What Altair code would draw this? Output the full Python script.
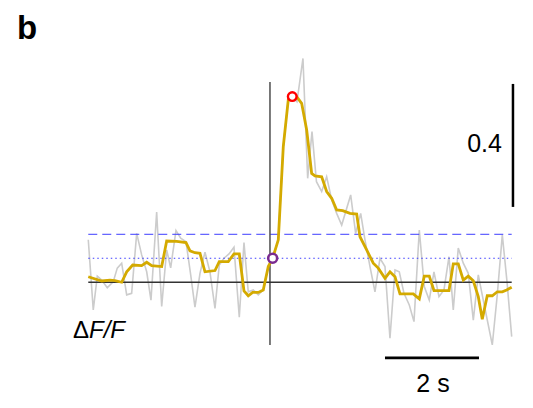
import altair as alt
import pandas as pd

# Smoothed trace (gold)
gold_t = [-3.866, -3.581, -3.404, -3.298, -3.155, -3.049, -2.921, -2.730, -2.623, -2.517,
          -2.304, -2.198, -1.985, -1.787, -1.702, -1.596, -1.489, -1.383, -1.170, -1.079,
          -0.887, -0.766, -0.653, -0.553, -0.462, -0.368, -0.249, -0.143, -0.036, 0.057,
          0.177, 0.283, 0.389, 0.474, 0.568, 0.674, 0.781, 0.887, 0.957, 1.100,
          1.206, 1.313, 1.419, 1.547, 1.702, 1.845, 1.915, 2.057, 2.198, 2.304,
          2.447, 2.553, 2.660, 2.766, 3.049, 3.177, 3.283, 3.389, 3.489, 3.809,
          3.900, 4.006, 4.113, 4.219, 4.326, 4.432, 4.517, 4.623, 4.730, 4.836,
          4.943, 5.036, 5.143]
gold_v = [0.018, 0.004, 0.007, 0.005, 0.000, 0.034, 0.056, 0.054, 0.065, 0.054,
          0.051, 0.134, 0.133, 0.129, 0.102, 0.096, 0.094, 0.034, 0.038, 0.067,
          0.067, 0.092, 0.092, -0.028, -0.044, -0.033, -0.033, -0.025, 0.051, 0.078,
          0.138, 0.441, 0.593, 0.604, 0.604, 0.582, 0.495, 0.354, 0.346, 0.343,
          0.295, 0.273, 0.235, 0.233, 0.224, 0.222, 0.148, 0.105, 0.062, 0.046,
          0.013, 0.034, 0.018, -0.038, -0.038, -0.054, 0.020, 0.020, -0.027, -0.027,
          0.060, 0.060, 0.007, 0.020, 0.005, -0.047, -0.120, -0.044, -0.044, -0.031,
          -0.031, -0.025, -0.016]

# Raw trace (gray)
gray_t = [-3.866, -3.760, -3.674, -3.581, -3.462, -3.334, -3.249, -3.155, -3.049, -2.943,
          -2.836, -2.730, -2.623, -2.532, -2.411, -2.304, -2.198, -2.113, -2.000, -1.900,
          -1.787, -1.687, -1.596, -1.489, -1.383, -1.277, -1.170, -1.079, -0.979, -0.872,
          -0.766, -0.653, -0.553, -0.462, -0.355, -0.249, -0.143, -0.036, 0.057, 0.177,
          0.283, 0.389, 0.474, 0.574, 0.702, 0.802, 0.894, 0.989, 1.100, 1.206,
          1.313, 1.419, 1.526, 1.717, 1.823, 1.930, 2.021, 2.128, 2.234, 2.340,
          2.447, 2.553, 2.660, 2.751, 2.851, 2.964, 3.064, 3.177, 3.283, 3.389,
          3.489, 3.596, 3.702, 3.809, 3.900, 4.006, 4.113, 4.219, 4.326, 4.432,
          4.538, 4.645, 4.730, 4.836, 4.943, 5.043, 5.143]
gray_v = [0.138, -0.090, 0.020, 0.007, -0.018, 0.002, 0.046, 0.062, -0.041, -0.036,
          0.159, 0.089, 0.034, -0.058, 0.228, -0.079, 0.105, 0.047, 0.168, 0.143,
          0.132, 0.024, -0.081, 0.029, 0.098, 0.034, -0.085, 0.056, 0.078, 0.092,
          0.114, -0.114, 0.129, -0.031, -0.025, -0.041, -0.025, 0.051, 0.078, 0.138,
          0.441, 0.593, 0.603, 0.587, 0.728, 0.338, 0.490, 0.327, 0.295, 0.343,
          0.268, 0.224, 0.186, 0.284, 0.159, 0.224, 0.138, 0.051, -0.031, 0.078,
          0.051, -0.182, 0.040, 0.034, -0.036, -0.074, -0.128, 0.170, -0.014, -0.058,
          0.034, -0.047, -0.025, 0.083, -0.090, 0.111, 0.062, 0.029, -0.123, 0.024,
          -0.058, -0.139, -0.204, -0.041, 0.154, 0.002, -0.177]

t_start, t_end = -3.866, 5.143
dashed_level = 0.156
dotted_level = 0.078
peak_t, peak_v = 0.474, 0.604
onset_t, onset_v = 0.057, 0.078
stim_top, stim_bottom = 0.651, -0.204

xdom = [-5.574, 5.426]
ydom = [-0.383, 0.892]
X = lambda f: alt.X(f, type="quantitative", scale=alt.Scale(domain=xdom, nice=False, zero=False), axis=None)
Y = lambda f: alt.Y(f, type="quantitative", scale=alt.Scale(domain=ydom, nice=False, zero=False), axis=None)

gold = pd.DataFrame({"t": gold_t, "v": gold_v})
gray = pd.DataFrame({"t": gray_t, "v": gray_v})

gray_line = alt.Chart(gray).mark_line(color="#cccccc", strokeWidth=1.6).encode(x=X("t"), y=Y("v"))
gold_line = alt.Chart(gold).mark_line(color="#d4aa00", strokeWidth=2.8).encode(x=X("t"), y=Y("v"))

hl = pd.DataFrame({"t": [t_start], "t2": [t_end], "v": [0.0]})
zero_rule = alt.Chart(hl).mark_rule(color="#333333", strokeWidth=1.3).encode(x=X("t"), x2="t2", y=Y("v"))
dash_df = pd.DataFrame({"t": [t_start], "t2": [t_end], "v": [dashed_level]})
dash_rule = alt.Chart(dash_df).mark_rule(color="#3c3cff", strokeWidth=1, strokeDash=[9, 5]).encode(x=X("t"), x2="t2", y=Y("v"))
dot_df = pd.DataFrame({"t": [t_start], "t2": [t_end], "v": [dotted_level]})
dot_rule = alt.Chart(dot_df).mark_rule(color="#3c3cff", strokeWidth=1, strokeDash=[1.5, 3]).encode(x=X("t"), x2="t2", y=Y("v"))
vl_df = pd.DataFrame({"t": [0.0], "v": [stim_bottom], "v2": [stim_top]})
stim_rule = alt.Chart(vl_df).mark_rule(color="#333333", strokeWidth=1.3).encode(x=X("t"), y=Y("v"), y2="v2")

# scale bars
vbar = pd.DataFrame({"t": [5.17], "v": [0.245], "v2": [0.645]})
vbar_rule = alt.Chart(vbar).mark_rule(color="black", strokeWidth=2.5).encode(x=X("t"), y=Y("v"), y2="v2")
hbar = pd.DataFrame({"t": [2.447], "t2": [4.447], "v": [-0.246]})
hbar_rule = alt.Chart(hbar).mark_rule(color="black", strokeWidth=2.8).encode(x=X("t"), x2="t2", y=Y("v"))

peak = pd.DataFrame({"t": [peak_t], "v": [peak_v]})
peak_pt = alt.Chart(peak).mark_point(shape="circle", size=75, filled=False, fill="white", fillOpacity=1,
                                     stroke="#ff0000", strokeWidth=2.4, opacity=1).encode(x=X("t"), y=Y("v"))
onset = pd.DataFrame({"t": [onset_t], "v": [onset_v]})
onset_pt = alt.Chart(onset).mark_point(shape="circle", size=80, filled=False, fill="white", fillOpacity=1,
                                       stroke="#7a2a90", strokeWidth=2.6, opacity=1).encode(x=X("t"), y=Y("v"))

font = "Liberation Sans"
lab_s = pd.DataFrame({"t": [3.468], "v": [-0.331], "txt": ["2 s"]})
txt_s = alt.Chart(lab_s).mark_text(font=font, fontSize=25, align="center", baseline="middle", color="black").encode(x=X("t"), y=Y("v"), text="txt:N")
lab_04 = pd.DataFrame({"t": [4.936], "v": [0.450], "txt": ["0.4"]})
txt_04 = alt.Chart(lab_04).mark_text(font=font, fontSize=25, align="right", baseline="middle", color="black").encode(x=X("t"), y=Y("v"), text="txt:N")
lab_d = pd.DataFrame({"t": [-4.191], "v": [-0.158], "txt": ["Δ"]})
txt_d = alt.Chart(lab_d).mark_text(font=font, fontSize=24, align="left", baseline="middle", color="black").encode(x=X("t"), y=Y("v"), text="txt:N")
lab_f = pd.DataFrame({"t": [-3.85], "v": [-0.158], "txt": ["F/F"]})
txt_f = alt.Chart(lab_f).mark_text(font=font, fontSize=24, fontStyle="italic", align="left", baseline="middle", color="black").encode(x=X("t"), y=Y("v"), text="txt:N")
lab_b = pd.DataFrame({"t": [-5.38], "v": [0.791], "txt": ["b"]})
txt_b = alt.Chart(lab_b).mark_text(font=font, fontSize=33, fontWeight="bold", align="left", baseline="alphabetic", color="black").encode(x=X("t"), y=Y("v"), text="txt:N")

chart = alt.layer(
    gray_line, zero_rule, dash_rule, dot_rule, stim_rule, gold_line,
    peak_pt, onset_pt, vbar_rule, hbar_rule, txt_s, txt_04, txt_d, txt_f, txt_b
).properties(
    width=517, height=392, padding=0,
    autosize=alt.AutoSizeParams(type="none"),
    background="white"
).configure_view(stroke=None)

chart.save("out.html", embed_options={"renderer": "svg", "actions": False})
